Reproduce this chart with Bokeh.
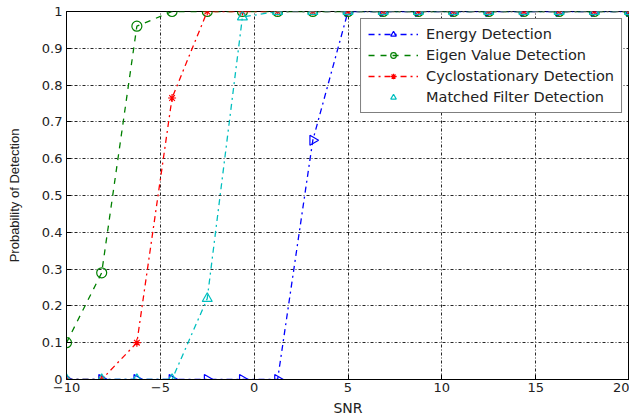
import numpy as np
from bokeh.plotting import figure
from bokeh.models import Legend, LegendItem, FixedTicker, Range1d
from bokeh.embed import file_html
from bokeh.resources import INLINE

snr = [-10, -8.125, -6.25, -4.375, -2.5, -0.625, 1.25, 3.125, 5, 6.875,
       8.75, 10.625, 12.5, 14.375, 16.25, 18.125, 20]
energy = [0, 0, 0, 0, 0, 0, 0, 0.65, 1, 1, 1, 1, 1, 1, 1, 1, 1]
eigen = [0.1, 0.29, 0.96, 1, 1, 1, 1, 1, 1, 1, 1, 1, 1, 1, 1, 1, 1]
cyclo = [0, 0, 0.1, 0.765, 1, 1, 1, 1, 1, 1, 1, 1, 1, 1, 1, 1, 1]
matched = [0, 0, 0, 0, 0.22, 0.985, 1, 1, 1, 1, 1, 1, 1, 1, 1, 1, 1]

x_ticks = [-10, -5, 0, 5, 10, 15, 20]
y_ticks = [0, 0.1, 0.2, 0.3, 0.4, 0.5, 0.6, 0.7, 0.8, 0.9, 1]
labels = ["Energy Detection", "Eigen Value Detection",
          "Cyclostationary Detection", "Matched Filter Detection"]

FONT = "DejaVu Sans"

p = figure(width=629, height=418, output_backend="svg", toolbar_location=None,
           x_range=Range1d(-10, 20), y_range=Range1d(0, 1),
           min_border_left=66, min_border_right=0, min_border_top=11,
           min_border_bottom=39)
p.background_fill_color = "white"
p.border_fill_color = "white"
p.outline_line_color = "black"
p.outline_line_width = 1

for ax in (p.xaxis[0], p.yaxis[0]):
    ax.axis_line_color = "black"
    ax.major_tick_in = 5
    ax.major_tick_out = 0
    ax.minor_tick_line_color = None
    ax.major_tick_line_color = "black"
    ax.major_label_text_font = FONT
    ax.major_label_text_color = "#222222"
    ax.axis_label_text_font_style = "normal"
    ax.axis_label_text_color = "#222222"

p.xaxis.ticker = FixedTicker(ticks=x_ticks)
p.yaxis.ticker = FixedTicker(ticks=y_ticks)
p.yaxis.major_label_overrides = {0: "0", 1: "1"}
p.xaxis.major_label_text_font_size = "13px"
p.yaxis.major_label_text_font_size = "13px"
p.xaxis.major_label_standoff = 3
p.yaxis.major_label_standoff = 4
p.xaxis.axis_label = "SNR"
p.yaxis.axis_label = "Probability of Detection"
p.xaxis.axis_label_text_font = FONT
p.yaxis.axis_label_text_font = "Liberation Sans"
p.xaxis.axis_label_text_font_size = "14px"
p.yaxis.axis_label_text_font_size = "13px"
p.xaxis.axis_label_standoff = 5
p.yaxis.axis_label_standoff = 17

p.xgrid.ticker = FixedTicker(ticks=x_ticks)
p.ygrid.ticker = FixedTicker(ticks=y_ticks)
for g in (p.xgrid[0], p.ygrid[0]):
    g.grid_line_color = "black"
    g.grid_line_dash = "3 2 1 2"
    g.grid_line_width = 1
    g.grid_line_alpha = 0.85

series = [
    (energy, "#0000ff", "dashdot", "triangle", -np.pi / 2, 10, True),
    (eigen, "#008000", "dashed", "circle", 0, 10, True),
    (cyclo, "#ff0000", "dashdot", "asterisk", 0, 8, True),
    (matched, "#00bfbf", "dashdot", "triangle", 0, 10, False),
]

items = []
for (vals, col, dash, marker, ang, sz, line_in_legend), lab in zip(series, labels):
    ln = p.line(snr, vals, line_color=col, line_dash=dash, line_width=1.3)
    sc = p.scatter(snr, vals, marker=marker, angle=ang, size=sz,
                   line_color=col, fill_color=None, line_width=1.2)
    rs = [ln, sc] if line_in_legend else [sc]
    items.append(LegendItem(label=lab, renderers=rs))

legend = Legend(items=items, location="top_right")
legend.label_text_font = FONT
legend.label_text_font_size = "14.5px"
legend.label_text_color = "#222222"
legend.border_line_color = "black"
legend.border_line_width = 1
legend.background_fill_color = "white"
legend.background_fill_alpha = 1
legend.glyph_width = 50
legend.glyph_height = 14
legend.spacing = 5
legend.padding = 7
legend.margin = 7
legend.label_standoff = 8
legend.label_height = 14
p.add_layout(legend, "center")

open("out.html", "w").write(file_html(p, INLINE))
